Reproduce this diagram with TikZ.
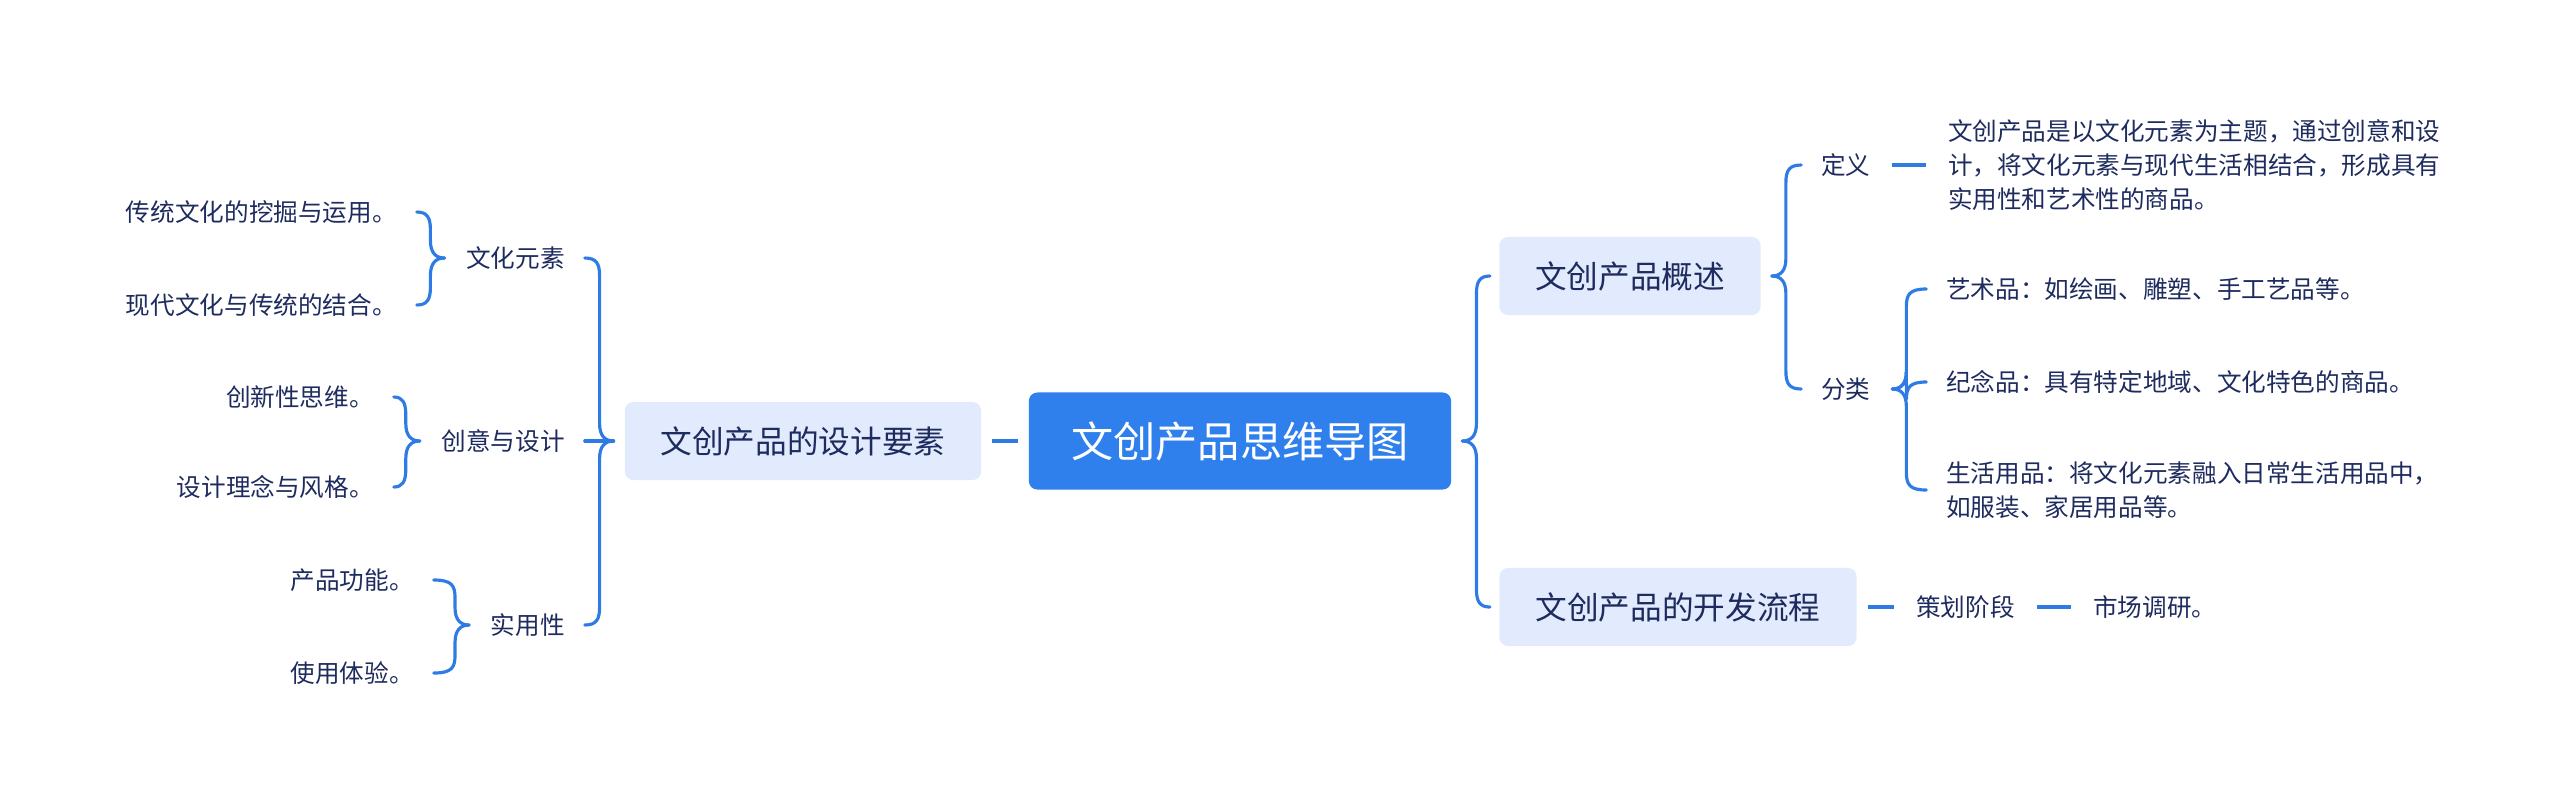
\documentclass[tikz,border=0pt]{standalone}
\usepackage{fontspec}
\setmainfont{Noto Sans CJK SC}
\usepackage{tikz}
\usetikzlibrary{calc,positioning}
\definecolor{mapblue}{HTML}{2F80ED}
\definecolor{maplight}{HTML}{E2EBFD}
\definecolor{mapline}{HTML}{2E7CE3}
\definecolor{mapink}{HTML}{1E2B5E}

% curly connector: from parent anchor #1 to child anchor #2
\newcommand{\bracelink}[2]{%
  \draw[brace line] let \p1=(#1), \p2=(#2), \n1={sign(\y2-\y1)}, \n2={sign(\x2-\x1)},
    \p3=(\x1+\n2*3pt,\y1), \p4=(\x2-\n2*2.5pt,\y2), \p5=(\x3+\n2*4pt,\y1) in
    (\p3) .. controls (\x3+\n2*2.5pt,\y3) and (\x5,\y3+\n1*1.5pt) .. (\x5,\y3+\n1*5pt)
    -- (\x5,\y4-\n1*5pt) .. controls (\x5,\y4-\n1*1.5pt) and (\x5+\n2*1pt,\y4) .. (\p4);}

\begin{document}
\begin{tikzpicture}[x=0.01cm,y=-0.01cm]
  \tikzset{root box/.style={fill=mapblue,text=white,rounded corners=2.4pt,minimum width=4.22cm,minimum height=0.97cm,font=\fontsize{12pt}{14pt}\selectfont},
    topic box/.style={fill=maplight,text=mapink,rounded corners=2.4pt,minimum height=0.78cm,font=\fontsize{9pt}{11pt}\selectfont},
    leaf text/.style={text=mapink,inner xsep=3pt,inner ysep=2pt,font=\fontsize{7pt}{9.6pt}\selectfont},
    brace line/.style={draw=mapline,line width=0.9pt,line cap=round},
    link line/.style={draw=mapline,line width=1.2pt}}%
  \useasboundingbox (0,0) rectangle (2560,805);

  \node [root box] (root) at (1240,441) {文创产品思维导图};
  \node [topic box,minimum width=3.56cm] (design) at (803,441) {文创产品的设计要素};
  \node [topic box,minimum width=2.61cm] (overview) at (1630,276) {文创产品概述};
  \node [topic box,minimum width=3.57cm] (process) at (1678,607) {文创产品的开发流程};

  % left side
  \node [leaf text,anchor=east] (culture) at (576,258) {文化元素};
  \node [leaf text,anchor=east] (creative) at (576,441) {创意与设计};
  \node [leaf text,anchor=east] (practical) at (576,625) {实用性};
  \node [leaf text,anchor=east] (tradition) at (408,212) {传统文化的挖掘与运用。};
  \node [leaf text,anchor=east] (modern) at (408,305) {现代文化与传统的结合。};
  \node [leaf text,anchor=east] (innovate) at (385,397) {创新性思维。};
  \node [leaf text,anchor=east] (concept) at (385,487) {设计理念与风格。};
  \node [leaf text,anchor=east] (function) at (425,580) {产品功能。};
  \node [leaf text,anchor=east] (experience) at (425,673) {使用体验。};

  % right side
  \node [leaf text,anchor=west] (define) at (1810,165) {定义};
  \node [leaf text,anchor=west] (classify) at (1810,389) {分类};
  \node [leaf text,align=left,right=0.55cm of define] (deftext)
    {文创产品是以文化元素为主题，通过创意和设\\计，将文化元素与现代生活相结合，形成具有\\实用性和艺术性的商品。};
  \node [leaf text,anchor=west] (art) at (1935,289) {艺术品：如绘画、雕塑、手工艺品等。};
  \node [leaf text,anchor=west] (souvenir) at (1935,382) {纪念品：具有特定地域、文化特色的商品。};
  \node [leaf text,anchor=west,align=left] (living) at (1935,490)
    {生活用品：将文化元素融入日常生活用品中，\\如服装、家居用品等。};
  \node [leaf text,anchor=west] (plan) at (1905,607) {策划阶段};
  \node [leaf text,right=0.56cm of plan] (research) {市场调研。};

  % connectors
  \draw[link line] ([xshift=-3pt]root.west) -- ([xshift=3pt]design.east);
  \draw[link line] ([xshift=3pt]define.east) -- ([xshift=-3pt]deftext.west);
  \draw[link line] ([xshift=3pt]process.east) -- ([xshift=-3pt]plan.west);
  \draw[link line] ([xshift=3pt]plan.east) -- ([xshift=-3pt]research.west);

  \bracelink{design.west}{culture.east}
  \bracelink{design.west}{creative.east}
  \bracelink{design.west}{practical.east}
  \bracelink{culture.west}{tradition.east}
  \bracelink{culture.west}{modern.east}
  \bracelink{creative.west}{innovate.east}
  \bracelink{creative.west}{concept.east}
  \bracelink{practical.west}{function.east}
  \bracelink{practical.west}{experience.east}
  \bracelink{root.east}{overview.west}
  \bracelink{root.east}{process.west}
  \bracelink{overview.east}{define.west}
  \bracelink{overview.east}{classify.west}
  \bracelink{classify.east}{art.west}
  \bracelink{classify.east}{souvenir.west}
  \bracelink{classify.east}{living.west}
\end{tikzpicture}
\end{document}
